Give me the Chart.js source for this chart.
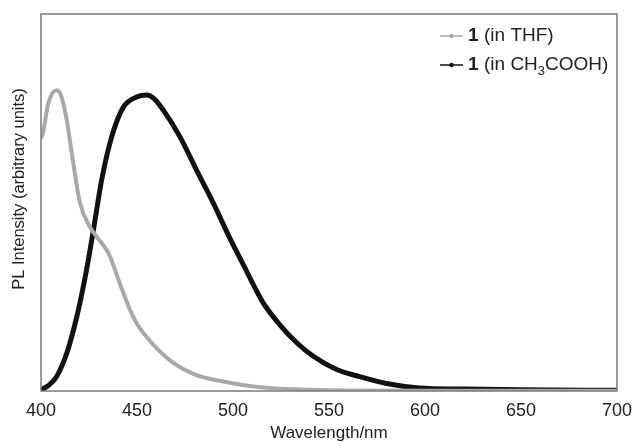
<!DOCTYPE html>
<html>
<head>
<meta charset="utf-8">
<script src="https://cdn.jsdelivr.net/npm/chart.js@4.4.0/dist/chart.umd.min.js"></script>
<style>
  html, body { margin: 0; padding: 0; background: #fff; }
  #wrap { width: 633px; height: 446px; }
</style>
</head>
<body>
<div id="wrap"><canvas id="myChart" width="633" height="446"></canvas></div>
<script>
// spectra (wavelength in nm, intensity in arbitrary units)
const thfWavelength = [400, 401, 403.8, 408, 409.9, 411.6, 413.4, 416.8, 420.3, 425.5, 429, 434.2, 436, 441, 446.4, 449.8, 455, 467, 481, 493, 505, 519, 540, 560, 600, 650, 700];
const thfIntensity = [67, 68.4, 76.3, 79.8, 79, 76.3, 71.9, 60.5, 49.9, 43.5, 40.9, 37.4, 35.6, 28.6, 21.5, 18, 14.3, 8.2, 4.2, 2.7, 1.6, 0.8, 0.3, 0.1, 0.05, 0.05, 0.05];

const acidWavelength = [400, 404, 408, 413.4, 418.6, 423, 427.3, 431.6, 436.8, 442.9, 449.8, 455, 459, 463.7, 472.4, 481, 489.7, 498.4, 505.4, 510.6, 515.8, 524.5, 533.2, 541.8, 554, 566, 580, 597, 620, 650, 700];
const acidIntensity = [0.3, 1.5, 3.7, 10, 19.6, 30.2, 42.7, 56, 67.4, 75.3, 78, 78.5, 77.5, 74.5, 67.4, 58.6, 49.9, 40.5, 33.5, 28.2, 23.3, 17.5, 12.8, 9.2, 5.7, 3.8, 2, 0.8, 0.5, 0.3, 0.2];

const xTicks = [400, 450, 500, 550, 600, 650, 700];
const yTitle = 'PL Intensity (arbitrary units)';

const thfColor = '#a9a9a9';
const acidColor = '#111111';
const fontName = '"Liberation Sans", Arial, sans-serif';

function pairs(xs, ys) {
  return xs.map((x, i) => ({ x: x, y: ys[i] }));
}

// box round the plot area
const frame = {
  id: 'frame',
  afterDraw(chart) {
    const { ctx, chartArea } = chart;
    ctx.save();
    ctx.strokeStyle = '#7a7a7a';
    ctx.lineWidth = 1.5;
    ctx.strokeRect(chartArea.left, chartArea.top, chartArea.right - chartArea.left, chartArea.bottom - chartArea.top);
    ctx.restore();
  }
};

// y title sits a bit above the middle in the original
const sideTitle = {
  id: 'sideTitle',
  afterDraw(chart) {
    const ctx = chart.ctx;
    ctx.save();
    ctx.translate(19, 189);
    ctx.rotate(-Math.PI / 2);
    ctx.fillStyle = '#222';
    ctx.font = '16.5px ' + fontName;
    ctx.textAlign = 'center';
    ctx.textBaseline = 'middle';
    ctx.fillText(yTitle, 0, 0);
    ctx.restore();
  }
};

// legend with bold "1" and subscript 3
const legendBox = {
  id: 'legendBox',
  afterDraw(chart) {
    const ctx = chart.ctx;
    const rows = [
      { color: thfColor, y: 36, parts: [['(in THF)', false]] },
      { color: acidColor, y: 65, parts: [['(in CH', false], ['3', true], ['COOH)', false]] }
    ];
    ctx.save();
    rows.forEach((row) => {
      ctx.strokeStyle = row.color;
      ctx.fillStyle = row.color;
      ctx.lineWidth = 1.5;
      ctx.beginPath();
      ctx.moveTo(440, row.y);
      ctx.lineTo(463, row.y);
      ctx.stroke();
      ctx.beginPath();
      ctx.arc(451.5, row.y, 2.2, 0, Math.PI * 2);
      ctx.fill();

      ctx.fillStyle = '#222';
      ctx.textBaseline = 'middle';
      ctx.font = 'bold 19px ' + fontName;
      ctx.fillText('1', 468, row.y);
      let x = 484;
      row.parts.forEach(([txt, sub]) => {
        ctx.font = (sub ? '13px ' : '19px ') + fontName;
        ctx.fillText(txt, x, row.y + (sub ? 6 : 0));
        x += ctx.measureText(txt).width;
      });
    });
    ctx.restore();
  }
};

const ctx = document.getElementById('myChart').getContext('2d');
const myChart = new Chart(ctx, {
  type: 'line',
  data: {
    datasets: [
      {
        label: '1 (in THF)',
        data: pairs(thfWavelength, thfIntensity),
        borderColor: thfColor,
        backgroundColor: thfColor,
        borderWidth: 4,
        pointRadius: 0,
        cubicInterpolationMode: 'monotone'
      },
      {
        label: '1 (in CH3COOH)',
        data: pairs(acidWavelength, acidIntensity),
        borderColor: acidColor,
        backgroundColor: acidColor,
        borderWidth: 5,
        pointRadius: 0,
        cubicInterpolationMode: 'monotone'
      }
    ]
  },
  options: {
    responsive: false,
    animation: false,
    layout: { padding: { top: 14, right: 16, left: 0, bottom: 0 } },
    plugins: {
      legend: { display: false },
      tooltip: { enabled: false }
    },
    scales: {
      x: {
        type: 'linear',
        min: 400,
        max: 700,
        afterBuildTicks: (scale) => { scale.ticks = xTicks.map((v) => ({ value: v })); },
        afterFit: (scale) => { scale.height = 55; },
        grid: { display: false },
        border: { display: false },
        ticks: { color: '#222', font: { family: fontName, size: 18 }, padding: 1, maxRotation: 0 },
        title: { display: true, text: 'Wavelength/nm', color: '#222', font: { family: fontName, size: 17 }, padding: { top: 0, bottom: 2 } }
      },
      y: {
        min: 0,
        max: 100,
        afterFit: (scale) => { scale.width = 41; },
        grid: { display: false },
        border: { display: false },
        ticks: { display: false },
        title: { display: false }
      }
    }
  },
  plugins: [frame, sideTitle, legendBox]
});
</script>
</body>
</html>
